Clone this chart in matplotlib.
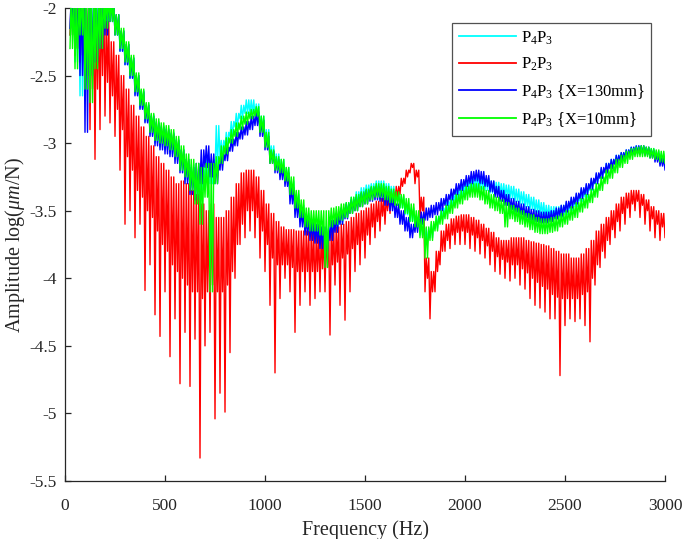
import numpy as np
import matplotlib
matplotlib.use("Agg")
import matplotlib.pyplot as plt

plt.rcParams['font.family'] = ['Liberation Serif', 'DejaVu Serif']
plt.rcParams['mathtext.fontset'] = 'custom'
plt.rcParams['mathtext.rm'] = 'Liberation Serif'
plt.rcParams['mathtext.it'] = 'Liberation Serif:italic'

# frequency grid of the read-off values (Hz)
freq = np.arange(25, 3001, 25)

# P4P3 (cyan): lower / upper edge of the noisy trace
cyan_lo = [-2.2, -2.4, -2.65, -2.5, -2.4, -2.3, -2.2, -2.15, -2.1, -2.2,
           -2.32, -2.42, -2.52, -2.64, -2.74, -2.84, -2.93, -3.0, -3.03, -3.05,
           -3.08, -3.12, -3.2, -3.27, -3.33, -3.38, -3.35, -3.28, -3.3, -3.2,
           -3.1, -3.03, -2.95, -2.88, -2.82, -2.78, -2.78, -2.8, -2.9, -3.0,
           -3.12, -3.18, -3.22, -3.28, -3.4, -3.5, -3.58, -3.64, -3.68, -3.72,
           -3.74, -3.74, -3.7, -3.65, -3.6, -3.55, -3.5, -3.46, -3.43, -3.4,
           -3.38, -3.37, -3.37, -3.38, -3.4, -3.44, -3.48, -3.53, -3.58, -3.63,
           -3.68, -3.74, -3.7, -3.63, -3.57, -3.52, -3.47, -3.43, -3.4, -3.37,
           -3.35, -3.34, -3.34, -3.35, -3.37, -3.38, -3.39, -3.4, -3.41, -3.43,
           -3.45, -3.47, -3.49, -3.51, -3.53, -3.55, -3.56, -3.56, -3.55, -3.53,
           -3.5, -3.47, -3.43, -3.4, -3.35, -3.3, -3.26, -3.22, -3.18, -3.15,
           -3.12, -3.1, -3.08, -3.07, -3.07, -3.08, -3.1, -3.12, -3.14, -3.16]
cyan_hi = [-1.9, -1.9, -1.9, -1.9, -1.9, -1.9, -1.9, -1.9, -1.95, -2.05,
           -2.17, -2.27, -2.37, -2.5, -2.61, -2.71, -2.79, -2.84, -2.87, -2.89,
           -2.92, -2.97, -3.05, -3.12, -3.16, -3.18, -3.17, -3.12, -3.12, -2.87,
           -2.98, -2.92, -2.84, -2.78, -2.72, -2.68, -2.68, -2.71, -2.8, -2.9,
           -3.02, -3.08, -3.12, -3.18, -3.28, -3.38, -3.46, -3.52, -3.56, -3.6,
           -3.62, -3.62, -3.58, -3.53, -3.48, -3.44, -3.4, -3.36, -3.33, -3.31,
           -3.3, -3.28, -3.28, -3.3, -3.32, -3.35, -3.39, -3.44, -3.48, -3.53,
           -3.58, -3.63, -3.6, -3.54, -3.48, -3.43, -3.38, -3.34, -3.31, -3.28,
           -3.26, -3.25, -3.25, -3.26, -3.28, -3.29, -3.3, -3.31, -3.32, -3.34,
           -3.36, -3.38, -3.4, -3.42, -3.44, -3.46, -3.47, -3.47, -3.46, -3.44,
           -3.41, -3.38, -3.34, -3.31, -3.27, -3.23, -3.19, -3.15, -3.12, -3.09,
           -3.07, -3.05, -3.03, -3.02, -3.02, -3.03, -3.04, -3.06, -3.08, -3.1]

# P2P3 (red): spike tips, lower edge of the dense band, upper edge
red_lo = [-2.2, -2.35, -2.4, -2.6, -2.9, -3.12, -2.9, -2.8, -2.85, -2.95,
          -3.2, -3.6, -3.5, -3.7, -3.6, -4.09, -3.9, -4.27, -4.43, -4.1,
          -4.58, -4.3, -4.78, -4.4, -4.8, -4.45, -5.33, -4.5, -4.4, -5.04,
          -4.85, -4.99, -4.55, -4.0, -3.75, -3.7, -3.65, -3.7, -3.85, -3.95,
          -4.2, -4.7, -4.15, -4.0, -4.1, -4.4, -4.2, -4.1, -4.2, -4.15,
          -4.1, -4.1, -4.42, -4.05, -4.2, -4.31, -4.1, -3.95, -3.9, -3.85,
          -3.75, -3.7, -3.65, -3.6, -3.52, -3.45, -3.38, -3.3, -3.22, -3.3,
          -3.55, -4.1, -4.3, -4.1, -3.9, -3.8, -3.78, -3.75, -3.75, -3.75,
          -3.78, -3.8, -3.82, -3.85, -3.9, -3.95, -3.97, -4.0, -4.02, -4.0,
          -4.05, -4.08, -4.15, -4.2, -4.22, -4.25, -4.3, -4.3, -4.72, -4.35,
          -4.3, -4.32, -4.3, -4.35, -4.47, -4.05, -3.92, -3.85, -3.75, -3.7,
          -3.65, -3.6, -3.55, -3.5, -3.55, -3.6, -3.65, -3.7, -3.72, -3.7]
red_core = [-2.2, -2.3, -2.35, -2.5, -2.6, -2.6, -2.5, -2.55, -2.65, -2.75,
            -2.9, -3.1, -3.2, -3.35, -3.4, -3.5, -3.55, -3.65, -3.75, -3.8,
            -3.9, -3.95, -4.0, -4.05, -4.1, -4.1, -4.15, -4.1, -4.05, -4.1,
            -4.1, -4.05, -3.95, -3.75, -3.6, -3.5, -3.5, -3.55, -3.65, -3.75,
            -3.85, -3.9, -3.9, -3.9, -3.92, -3.95, -3.95, -3.95, -3.95, -3.95,
            -3.93, -3.92, -3.9, -3.88, -3.85, -3.82, -3.78, -3.75, -3.72, -3.68,
            -3.62, -3.58, -3.54, -3.5, -3.45, -3.4, -3.32, -3.25, -3.18, -3.25,
            -3.5, -4.0, -4.1, -3.95, -3.8, -3.72, -3.68, -3.66, -3.65, -3.66,
            -3.68, -3.7, -3.72, -3.76, -3.8, -3.84, -3.86, -3.88, -3.9, -3.9,
            -3.93, -3.96, -4.0, -4.03, -4.06, -4.08, -4.12, -4.14, -4.15, -4.15,
            -4.15, -4.15, -4.12, -4.1, -4.0, -3.9, -3.8, -3.72, -3.64, -3.58,
            -3.52, -3.48, -3.45, -3.43, -3.46, -3.5, -3.56, -3.6, -3.62, -3.63]
red_hi = [-1.9, -1.9, -1.9, -1.9, -2.05, -2.0, -1.9, -2.1, -2.25, -2.35,
          -2.5, -2.6, -2.72, -2.8, -2.88, -2.95, -3.02, -3.1, -3.15, -3.2,
          -3.25, -3.3, -3.28, -3.3, -3.35, -3.38, -3.45, -3.5, -3.45, -3.55,
          -3.55, -3.5, -3.4, -3.3, -3.22, -3.2, -3.2, -3.25, -3.35, -3.45,
          -3.52, -3.58, -3.62, -3.64, -3.64, -3.65, -3.65, -3.65, -3.66, -3.67,
          -3.66, -3.65, -3.64, -3.62, -3.6, -3.58, -3.55, -3.52, -3.5, -3.48,
          -3.45, -3.43, -3.41, -3.39, -3.36, -3.32, -3.26, -3.2, -3.15, -3.2,
          -3.4, -3.85, -3.95, -3.8, -3.65, -3.6, -3.56, -3.54, -3.53, -3.53,
          -3.55, -3.57, -3.6, -3.63, -3.66, -3.7, -3.72, -3.72, -3.7, -3.7,
          -3.7, -3.72, -3.73, -3.74, -3.75, -3.76, -3.78, -3.8, -3.82, -3.82,
          -3.85, -3.85, -3.82, -3.78, -3.72, -3.65, -3.6, -3.55, -3.5, -3.45,
          -3.4, -3.37, -3.35, -3.35, -3.38, -3.42, -3.47, -3.5, -3.52, -3.56]

# P4P3 {X=130mm} (blue)
blue_lo = [-2.15, -2.3, -2.5, -2.92, -2.5, -2.4, -2.3, -2.2, -2.1, -2.2,
           -2.32, -2.42, -2.52, -2.65, -2.75, -2.85, -2.95, -3.02, -3.05, -3.08,
           -3.1, -3.15, -3.22, -3.3, -3.38, -3.42, -3.3, -3.18, -3.25, -3.3,
           -3.2, -3.13, -3.06, -3.02, -2.97, -2.94, -2.9, -2.87, -2.95, -3.05,
           -3.15, -3.22, -3.27, -3.32, -3.45, -3.55, -3.62, -3.68, -3.72, -3.74,
           -3.78, -3.8, -3.72, -3.66, -3.6, -3.56, -3.52, -3.5, -3.47, -3.45,
           -3.43, -3.42, -3.43, -3.46, -3.5, -3.55, -3.6, -3.65, -3.7, -3.66,
           -3.6, -3.57, -3.55, -3.53, -3.5, -3.46, -3.42, -3.38, -3.35, -3.32,
           -3.3, -3.28, -3.3, -3.32, -3.36, -3.4, -3.43, -3.46, -3.49, -3.51,
           -3.53, -3.55, -3.57, -3.58, -3.59, -3.59, -3.58, -3.56, -3.54, -3.51,
           -3.48, -3.45, -3.41, -3.38, -3.34, -3.3, -3.26, -3.22, -3.19, -3.16,
           -3.13, -3.11, -3.09, -3.08, -3.08, -3.09, -3.11, -3.14, -3.17, -3.2]
blue_hi = [-1.9, -1.9, -1.9, -1.9, -1.9, -1.9, -1.9, -1.9, -1.95, -2.05,
           -2.17, -2.27, -2.37, -2.5, -2.62, -2.72, -2.8, -2.85, -2.88, -2.9,
           -2.93, -2.98, -3.05, -3.12, -3.18, -3.15, -3.05, -3.02, -3.08, -3.15,
           -3.08, -3.03, -2.97, -2.92, -2.88, -2.84, -2.8, -2.77, -2.83, -2.95,
           -3.06, -3.12, -3.17, -3.22, -3.33, -3.42, -3.5, -3.55, -3.58, -3.6,
           -3.62, -3.62, -3.57, -3.52, -3.48, -3.45, -3.42, -3.4, -3.37, -3.35,
           -3.33, -3.32, -3.33, -3.36, -3.4, -3.45, -3.5, -3.55, -3.6, -3.56,
           -3.51, -3.48, -3.46, -3.44, -3.41, -3.38, -3.34, -3.3, -3.27, -3.24,
           -3.21, -3.2, -3.21, -3.24, -3.28, -3.32, -3.35, -3.38, -3.41, -3.43,
           -3.45, -3.47, -3.49, -3.5, -3.51, -3.51, -3.5, -3.48, -3.46, -3.43,
           -3.4, -3.37, -3.33, -3.3, -3.26, -3.22, -3.18, -3.15, -3.12, -3.09,
           -3.07, -3.05, -3.03, -3.02, -3.02, -3.03, -3.05, -3.08, -3.11, -3.14]

# P4P3 {X=10mm} (green)
green_lo = [-2.3, -2.45, -2.2, -2.6, -2.7, -2.45, -2.3, -2.15, -2.1, -2.2,
            -2.3, -2.4, -2.5, -2.62, -2.72, -2.82, -2.92, -2.98, -3.0, -3.02,
            -3.05, -3.1, -3.2, -3.25, -3.35, -3.45, -3.6, -3.4, -4.1, -3.3,
            -3.15, -3.08, -3.0, -2.95, -2.9, -2.86, -2.82, -2.8, -2.92, -3.03,
            -3.15, -3.2, -3.22, -3.28, -3.38, -3.48, -3.55, -3.62, -3.65, -3.65,
            -3.68, -3.92, -3.62, -3.6, -3.57, -3.55, -3.52, -3.5, -3.47, -3.45,
            -3.42, -3.4, -3.4, -3.42, -3.44, -3.46, -3.48, -3.52, -3.58, -3.62,
            -3.7, -3.85, -3.72, -3.65, -3.6, -3.56, -3.52, -3.48, -3.45, -3.42,
            -3.4, -3.4, -3.42, -3.45, -3.48, -3.5, -3.52, -3.62, -3.56, -3.58,
            -3.6, -3.62, -3.64, -3.66, -3.67, -3.67, -3.66, -3.65, -3.62, -3.6,
            -3.57, -3.55, -3.51, -3.48, -3.44, -3.4, -3.35, -3.3, -3.26, -3.22,
            -3.18, -3.15, -3.12, -3.1, -3.1, -3.1, -3.11, -3.12, -3.14, -3.15]
green_hi = [-1.9, -1.9, -1.9, -1.9, -1.9, -1.9, -1.9, -1.9, -1.95, -2.05,
            -2.15, -2.25, -2.35, -2.48, -2.6, -2.7, -2.78, -2.82, -2.85, -2.87,
            -2.9, -2.95, -3.02, -3.08, -3.12, -3.15, -3.18, -3.15, -3.15, -3.1,
            -3.02, -2.96, -2.9, -2.85, -2.8, -2.77, -2.75, -2.73, -2.8, -2.92,
            -3.05, -3.1, -3.12, -3.18, -3.25, -3.35, -3.42, -3.48, -3.5, -3.5,
            -3.5, -3.5, -3.48, -3.47, -3.45, -3.44, -3.4, -3.38, -3.36, -3.34,
            -3.32, -3.3, -3.3, -3.32, -3.34, -3.36, -3.38, -3.41, -3.45, -3.5,
            -3.56, -3.62, -3.58, -3.54, -3.5, -3.46, -3.42, -3.38, -3.35, -3.32,
            -3.3, -3.3, -3.32, -3.35, -3.38, -3.4, -3.42, -3.44, -3.46, -3.48,
            -3.5, -3.52, -3.53, -3.55, -3.56, -3.56, -3.55, -3.54, -3.52, -3.5,
            -3.47, -3.44, -3.41, -3.38, -3.34, -3.3, -3.25, -3.2, -3.16, -3.12,
            -3.09, -3.06, -3.04, -3.03, -3.02, -3.03, -3.04, -3.05, -3.06, -3.08]

labels = [r'P$_4$P$_3$', r'P$_2$P$_3$', r'P$_4$P$_3$ {X=130mm}', r'P$_4$P$_3$ {X=10mm}']
colors = ['#00FFFF', '#FF0000', '#0000FF', '#00FF00']
series = [(cyan_lo, cyan_lo, cyan_hi), (red_lo, red_core, red_hi),
          (blue_lo, blue_lo, blue_hi), (green_lo, green_lo, green_hi)]


def trace(lo, core, hi):
    # per grid step: spike tip, top edge, band bottom, top edge
    f = np.asarray(freq, dtype=float)
    n = len(f)
    x = np.empty(4 * n)
    y = np.empty(4 * n)
    x[0::4] = f
    x[1::4] = f + 6.25
    x[2::4] = f + 12.5
    x[3::4] = f + 18.75
    y[0::4] = lo
    y[1::4] = hi
    y[2::4] = core
    y[3::4] = hi
    return x, y


fig = plt.figure(figsize=(6.85, 5.39), dpi=100)
ax = fig.add_axes([0.0949, 0.1076, 0.8759, 0.8776])

for (lo, core, hi), c, lab in zip(series, colors, labels):
    x, y = trace(lo, core, hi)
    ax.plot(x, y, color=c, lw=1.0, label=lab)

ax.set_xlim(0, 3000)
ax.set_ylim(-5.5, -2)
ax.set_xticks([0, 500, 1000, 1500, 2000, 2500, 3000])
ax.set_yticks([-5.5, -5, -4.5, -4, -3.5, -3, -2.5, -2])
ax.set_yticklabels(['-5.5', '-5', '-4.5', '-4', '-3.5', '-3', '-2.5', '-2'])
ax.spines['top'].set_visible(False)
ax.spines['right'].set_visible(False)
for s in ('left', 'bottom'):
    ax.spines[s].set_color('#262626')
    ax.spines[s].set_linewidth(0.9)
ax.tick_params(direction='in', length=4, width=0.9, colors='#262626',
               labelsize=12.5, labelcolor='#262626')
ax.tick_params(axis='x', pad=12)
ax.tick_params(axis='y', pad=6)
ax.set_xlabel('Frequency (Hz)', fontsize=14.5, color='#262626', labelpad=5)
ax.set_ylabel(r'Amplitude log($\mu m$/N)', fontsize=14.5, color='#262626', labelpad=2)

leg = ax.legend(loc='upper right', bbox_to_anchor=(0.951, 0.958),
                bbox_transform=fig.transFigure, fontsize=12,
                frameon=True, fancybox=False, handlelength=3.4,
                labelspacing=0.55, borderpad=0.4, handletextpad=0.3,
                borderaxespad=0)
leg.get_frame().set_edgecolor('#262626')
leg.get_frame().set_linewidth(0.9)
for h in leg.get_lines():
    h.set_linewidth(1.3)

fig.savefig('out.png', dpi=100)
